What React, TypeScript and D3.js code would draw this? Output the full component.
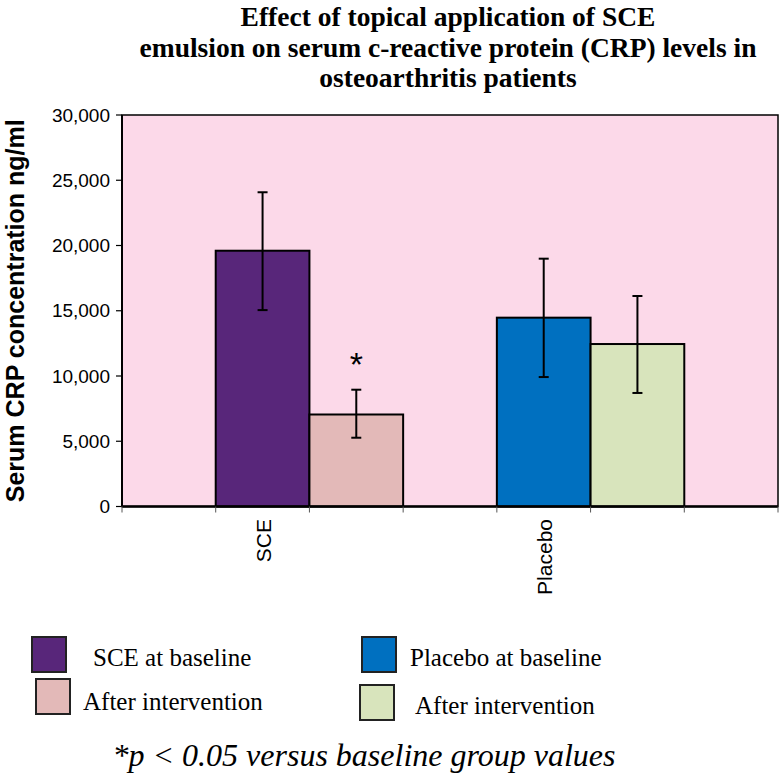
import React from "react";
import * as d3 from "d3";

const titleLines = [
  "Effect of topical application of SCE",
  "emulsion on serum c-reactive protein (CRP) levels in",
  "osteoarthritis patients",
];
const yAxisTitle = "Serum CRP concentration ng/ml";
const slotLabels = ["", "SCE", "", "", "Placebo", "", ""];
const seriesNames = ["SCE at baseline", "After intervention", "Placebo at baseline", "After intervention"];
const seriesSlots = [1, 2, 4, 5];
const means = [19600, 7050, 14470, 12450];
const errLow = [15050, 5270, 9920, 8700];
const errHigh = [24080, 8950, 18990, 16130];
const colors = ["#58267A", "#E3B9B8", "#0070C0", "#D8E4BC"];
const yTicks = [0, 5000, 10000, 15000, 20000, 25000, 30000];
const significant = [false, true, false, false];
const footnote = "*p < 0.05 versus baseline group values";

const W = 782, H = 782;
const plot = { left: 122, right: 778, top: 115, bottom: 506.5 };

export default function App() {
  const x = d3
    .scaleBand<number>()
    .domain(d3.range(slotLabels.length))
    .range([plot.left, plot.right])
    .padding(0);
  const y = d3.scaleLinear().domain([0, 30000]).range([plot.bottom, plot.top]);
  const fmt = d3.format(",");
  const bw = x.bandwidth();
  const sans = "'Liberation Sans', Arial, sans-serif";
  const serif = "'Liberation Serif', 'Times New Roman', serif";

  const legendItems = [
    { sx: 32, sy: 637, tx: 93, ty: 666 },
    { sx: 36, sy: 679, tx: 83, ty: 710 },
    { sx: 362, sy: 637, tx: 410, ty: 666 },
    { sx: 360, sy: 685, tx: 415, ty: 714 },
  ];

  return (
    <svg width={W} height={H} style={{ position: "absolute", left: 0, top: 0, background: "#fff" }}>
      {/* title */}
      {titleLines.map((t, i) => (
        <text key={i} x={448} y={26 + i * 30.5} textAnchor="middle" fontFamily={serif} fontWeight="bold" fontSize={27.5}>
          {t}
        </text>
      ))}
      {/* plot background */}
      <rect x={plot.left} y={plot.top} width={plot.right - plot.left} height={plot.bottom - plot.top} fill="#FCD9E9" stroke="#000" strokeWidth={1.5} />
      {/* bars */}
      {means.map((m, i) => (
        <rect key={i} x={x(seriesSlots[i])!} y={y(m)} width={bw} height={y(0) - y(m)} fill={colors[i]} stroke="#000" strokeWidth={2} />
      ))}
      {/* error bars */}
      {means.map((m, i) => {
        const cx = x(seriesSlots[i])! + bw / 2;
        return (
          <g key={i} stroke="#000" strokeWidth={2}>
            <line x1={cx} x2={cx} y1={y(errLow[i])} y2={y(errHigh[i])} />
            <line x1={cx - 5} x2={cx + 5} y1={y(errLow[i])} y2={y(errLow[i])} />
            <line x1={cx - 5} x2={cx + 5} y1={y(errHigh[i])} y2={y(errHigh[i])} />
          </g>
        );
      })}
      {/* significance */}
      {significant.map((s, i) =>
        s ? (
          <text key={i} x={x(seriesSlots[i])! + bw / 2} y={y(errHigh[i]) - 14} textAnchor="middle" fontFamily={sans} fontSize={34}>
            *
          </text>
        ) : null
      )}
      {/* axes */}
      <line x1={plot.left} x2={plot.left} y1={plot.top} y2={plot.bottom} stroke="#000" strokeWidth={2} />
      <line x1={plot.left} x2={plot.right} y1={plot.bottom} y2={plot.bottom} stroke="#000" strokeWidth={2.5} />
      {yTicks.map((t) => (
        <g key={t}>
          <line x1={plot.left - 6} x2={plot.left} y1={y(t)} y2={y(t)} stroke="#000" strokeWidth={1.2} />
          <text x={110} y={y(t)} dy="0.35em" textAnchor="end" fontFamily={sans} fontSize={19}>
            {fmt(t)}
          </text>
        </g>
      ))}
      {d3.range(slotLabels.length + 1).map((i) => {
        const xx = plot.left + i * bw;
        return <line key={i} x1={xx} x2={xx} y1={plot.bottom} y2={plot.bottom + 6} stroke="#555" strokeWidth={1} />;
      })}
      {slotLabels.map((l, i) =>
        l ? (
          <text key={i} transform={`translate(${x(i)! + bw / 2 + 8},519) rotate(-90)`} textAnchor="end" fontFamily={sans} fontSize={21}>
            {l}
          </text>
        ) : null
      )}
      {/* y axis title */}
      <text transform={`translate(24,${(plot.top + plot.bottom) / 2}) rotate(-90)`} textAnchor="middle" fontFamily={sans} fontWeight="bold" fontSize={25}>
        {yAxisTitle}
      </text>
      {/* legend */}
      {seriesNames.map((n, i) => (
        <g key={i}>
          <rect x={legendItems[i].sx} y={legendItems[i].sy} width={34} height={35} fill={colors[i]} stroke="#222" strokeWidth={2} />
          <text x={legendItems[i].tx} y={legendItems[i].ty} fontFamily={serif} fontSize={25}>
            {n}
          </text>
        </g>
      ))}
      <text x={364} y={766} textAnchor="middle" fontFamily={serif} fontStyle="italic" fontSize={32}>
        {footnote}
      </text>
    </svg>
  );
}
